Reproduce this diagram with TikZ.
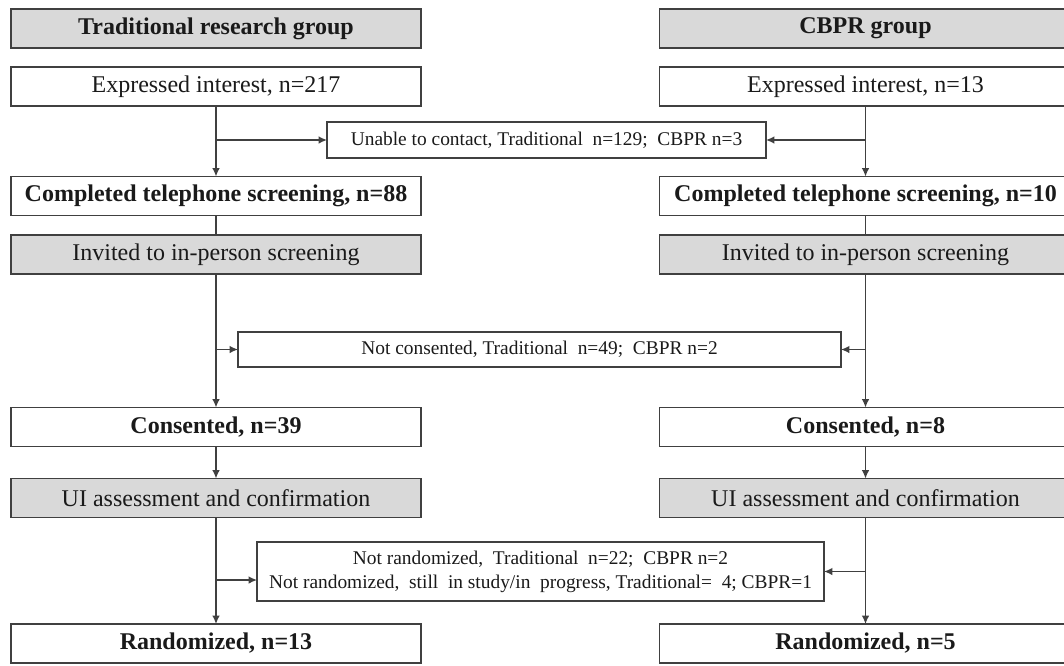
\documentclass[tikz,border=0pt]{standalone}
\usepackage{fontspec}
\setmainfont{Liberation Serif}
\usetikzlibrary{arrows.meta,positioning,calc}
\definecolor{flowGray}{HTML}{D9D9D9}
\definecolor{flowLine}{HTML}{404040}
\definecolor{flowText}{HTML}{1A1A1A}
\tikzset{
    flowBase/.style={
        rectangle,
        draw=flowLine,
        line width=0.9pt,
        inner sep=0pt,
        outer sep=0pt,
        minimum height=19.5pt,
        minimum width=205pt,
        align=center,
        text=flowText,
        font=\fontsize{12}{14}\selectfont
    },
    % Box variants
    plain/.style={flowBase, fill=white},
    shaded/.style={flowBase, fill=flowGray},
    bold/.style={font=\fontsize{12}{14}\selectfont\bfseries},
    rightCol/.style={minimum width=206pt},
    exclBox/.style={flowBase, fill=white, font=\fontsize{9.7}{12}\selectfont},
    % Connectors
    flowLink/.style={line width=0.7pt, draw=flowLine},
    flowArrow/.style={flowLink, -{Latex[length=4.2pt,width=3.8pt]}}
}
\begin{document}
\begin{tikzpicture}[x=0.5pt, y=-0.5pt]
\clip (0,0) rectangle (1064,665);

% Traditional column
\node[shaded, bold] (headL) at (216,28.5) {Traditional research group};
\node[plain] (expL) at (216,86.5) {Expressed interest, n=217};
\node[plain, bold] (telL) at (216,196) {Completed telephone screening, n=88};
\node[shaded] (invL) at (216,254.5) {Invited to in-person screening};
\node[plain, bold] (conL) at (216,427) {Consented, n=39};
\node[shaded] (uiL) at (216,498) {UI assessment and confirmation};
\node[plain, bold] (randL) at (216,643.5) {Randomized, n=13};

% CBPR column
\node[shaded, bold, rightCol] (headR) at (865.5,28.5) {CBPR group};
\node[plain, rightCol] (expR) at (865.5,86.5) {Expressed interest, n=13};
\node[plain, bold, rightCol] (telR) at (865.5,196) {Completed telephone screening, n=10};
\node[shaded, rightCol] (invR) at (865.5,254.5) {Invited to in-person screening};
\node[plain, bold, rightCol] (conR) at (865.5,427) {Consented, n=8};
\node[shaded, rightCol] (uiR) at (865.5,498) {UI assessment and confirmation};
\node[plain, bold, rightCol] (randR) at (865.5,643.5) {Randomized, n=5};

% Exclusions
\node[exclBox, minimum width=219.5pt, minimum height=18pt] (unable) at (546.5,140)
    {Unable to contact, Traditional\ \ n=129;\ \ CBPR n=3};
\node[exclBox, minimum width=301.5pt, minimum height=17.5pt] (notCons) at (539.5,349.5)
    {Not consented, Traditional\ \ n=49;\ \ CBPR n=2};
\node[exclBox, minimum width=283.5pt, minimum height=29.5pt] (notRand) at (540.5,571.5)
    {Not randomized,\ \ Traditional\ \ n=22;\ \ CBPR n=2\\Not randomized,\ \ still\ \ in study/in\ \ progress, Traditional=\ \ 4; CBPR=1};

% Flow
\draw[flowArrow] (expL) -- (telL);
\draw[flowArrow] (expL |- unable) -- (unable);
\draw[flowArrow] (expR) -- (telR);
\draw[flowArrow] (expR |- unable) -- (unable);
\draw[flowLink] (telL) -- (invL);
\draw[flowLink] (telR) -- (invR);
\draw[flowArrow] (invL) -- (conL);
\draw[flowArrow] (invL |- notCons) -- (notCons);
\draw[flowArrow] (invR) -- (conR);
\draw[flowArrow] (invR |- notCons) -- (notCons);
\draw[flowArrow] (conL) -- (uiL);
\draw[flowArrow] (conR) -- (uiR);
\draw[flowArrow] (uiL) -- (randL);
\draw[flowArrow] ($(uiL |- notRand)+(0,8.5)$) -- ($(notRand.west)+(0,8.5)$);
\draw[flowArrow] (uiR) -- (randR);
\draw[flowArrow] (uiR |- notRand) -- (notRand);
\end{tikzpicture}
\end{document}
